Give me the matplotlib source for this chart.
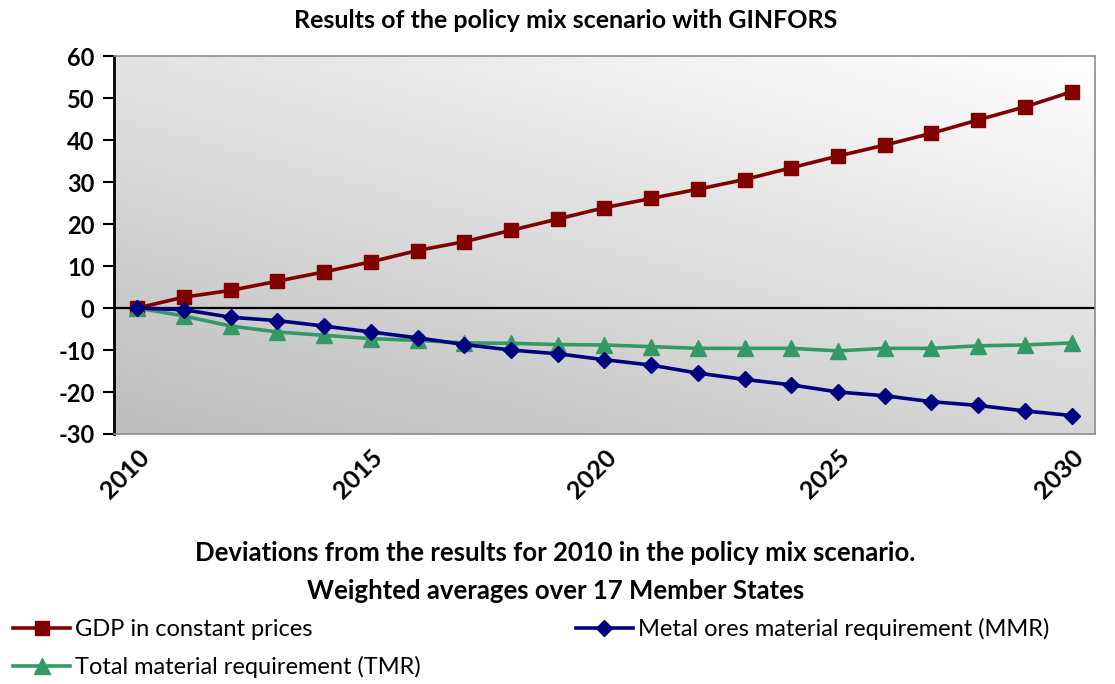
import numpy as np
import matplotlib

matplotlib.use("Agg")
import matplotlib.pyplot as plt

plt.rcParams["font.family"] = ["Lato", "DejaVu Sans"]
plt.rcParams["axes.unicode_minus"] = False

years = list(range(2010, 2031))
gdp = [0, 2.6, 4.2, 6.4, 8.6, 11.0, 13.7, 15.8, 18.5, 21.2, 23.9,
       26.1, 28.3, 30.6, 33.4, 36.2, 38.8, 41.6, 44.8, 47.9, 51.5]
mmr = [0, -0.4, -2.2, -3.0, -4.3, -5.7, -7.1, -8.7, -10.0, -10.9, -12.3,
       -13.6, -15.5, -17.0, -18.3, -20.0, -20.9, -22.3, -23.2, -24.5, -25.6]
tmr = [0, -1.9, -4.3, -5.7, -6.5, -7.3, -7.7, -8.3, -8.4, -8.7, -8.8,
       -9.2, -9.6, -9.6, -9.6, -10.2, -9.6, -9.6, -9.0, -8.8, -8.3]

x_ticks = [2010, 2015, 2020, 2025, 2030]
y_ticks = list(range(-30, 61, 10))

fig = plt.figure(figsize=(11.15, 6.84), dpi=100)
ax = fig.add_axes([0.1022, 0.3655, 0.8798, 0.5525])

# diagonal grey gradient background (white top-right, darker bottom-left)
gx, gy = np.meshgrid(np.linspace(0, 1, 200), np.linspace(1, 0, 200))
shade = 0.74 + 0.15 * gy + 0.10 * gx + 0.01 * gx * gy
ax.imshow(np.dstack([shade] * 3).clip(0, 1), extent=[0, 1, 0, 1],
          transform=ax.transAxes, aspect="auto", zorder=0)

ax.axhline(0, color="black", lw=1.6, zorder=1)

ax.plot(years, gdp, color="#800000", lw=2.6, marker="s", ms=10.5,
        label="GDP in constant prices", zorder=3)
ax.plot(years, tmr, color="#339966", lw=2.6, marker="^", ms=11.5,
        label="Total material requirement (TMR)", zorder=3)
ax.plot(years, mmr, color="#000080", lw=2.6, marker="D", ms=8.5,
        label="Metal ores material requirement (MMR)", zorder=3)

ax.set_xlim(2009.5, 2030.5)
ax.set_ylim(-30, 60)
ax.set_yticks(y_ticks)
ax.set_xticks(x_ticks)
ax.set_xticklabels([str(v) for v in x_ticks], rotation=45, ha="right",
                   va="top", rotation_mode="anchor", fontsize=18,
                   fontweight="bold")
ax.tick_params(axis="x", length=0, pad=8)
ax.tick_params(axis="y", length=8, width=1.5, direction="out", pad=6,
               labelsize=17)
for lab in ax.get_yticklabels():
    lab.set_fontweight("bold")

for side in ("top", "right", "bottom"):
    ax.spines[side].set_color("#8c8c8c")
    ax.spines[side].set_linewidth(1.2)
ax.spines["left"].set_color("black")
ax.spines["left"].set_linewidth(2)

fig.text(0.507, 0.970, "Results of the policy mix scenario with GINFORS",
         ha="center", va="center", fontsize=18, fontweight="bold")
fig.text(0.498, 0.192, "Deviations from the results for 2010 in the policy mix scenario.",
         ha="center", va="center", fontsize=18.5, fontweight="bold")
fig.text(0.498, 0.136, "Weighted averages over 17 Member States",
         ha="center", va="center", fontsize=18.5, fontweight="bold")

fig.legend(loc="lower left", bbox_to_anchor=(-0.003, -0.016), ncol=2,
           frameon=False, fontsize=17, handlelength=2.4, handletextpad=0.2,
           columnspacing=6.6, labelspacing=0.7, borderaxespad=0.3)

fig.savefig("out.png", dpi=100)
